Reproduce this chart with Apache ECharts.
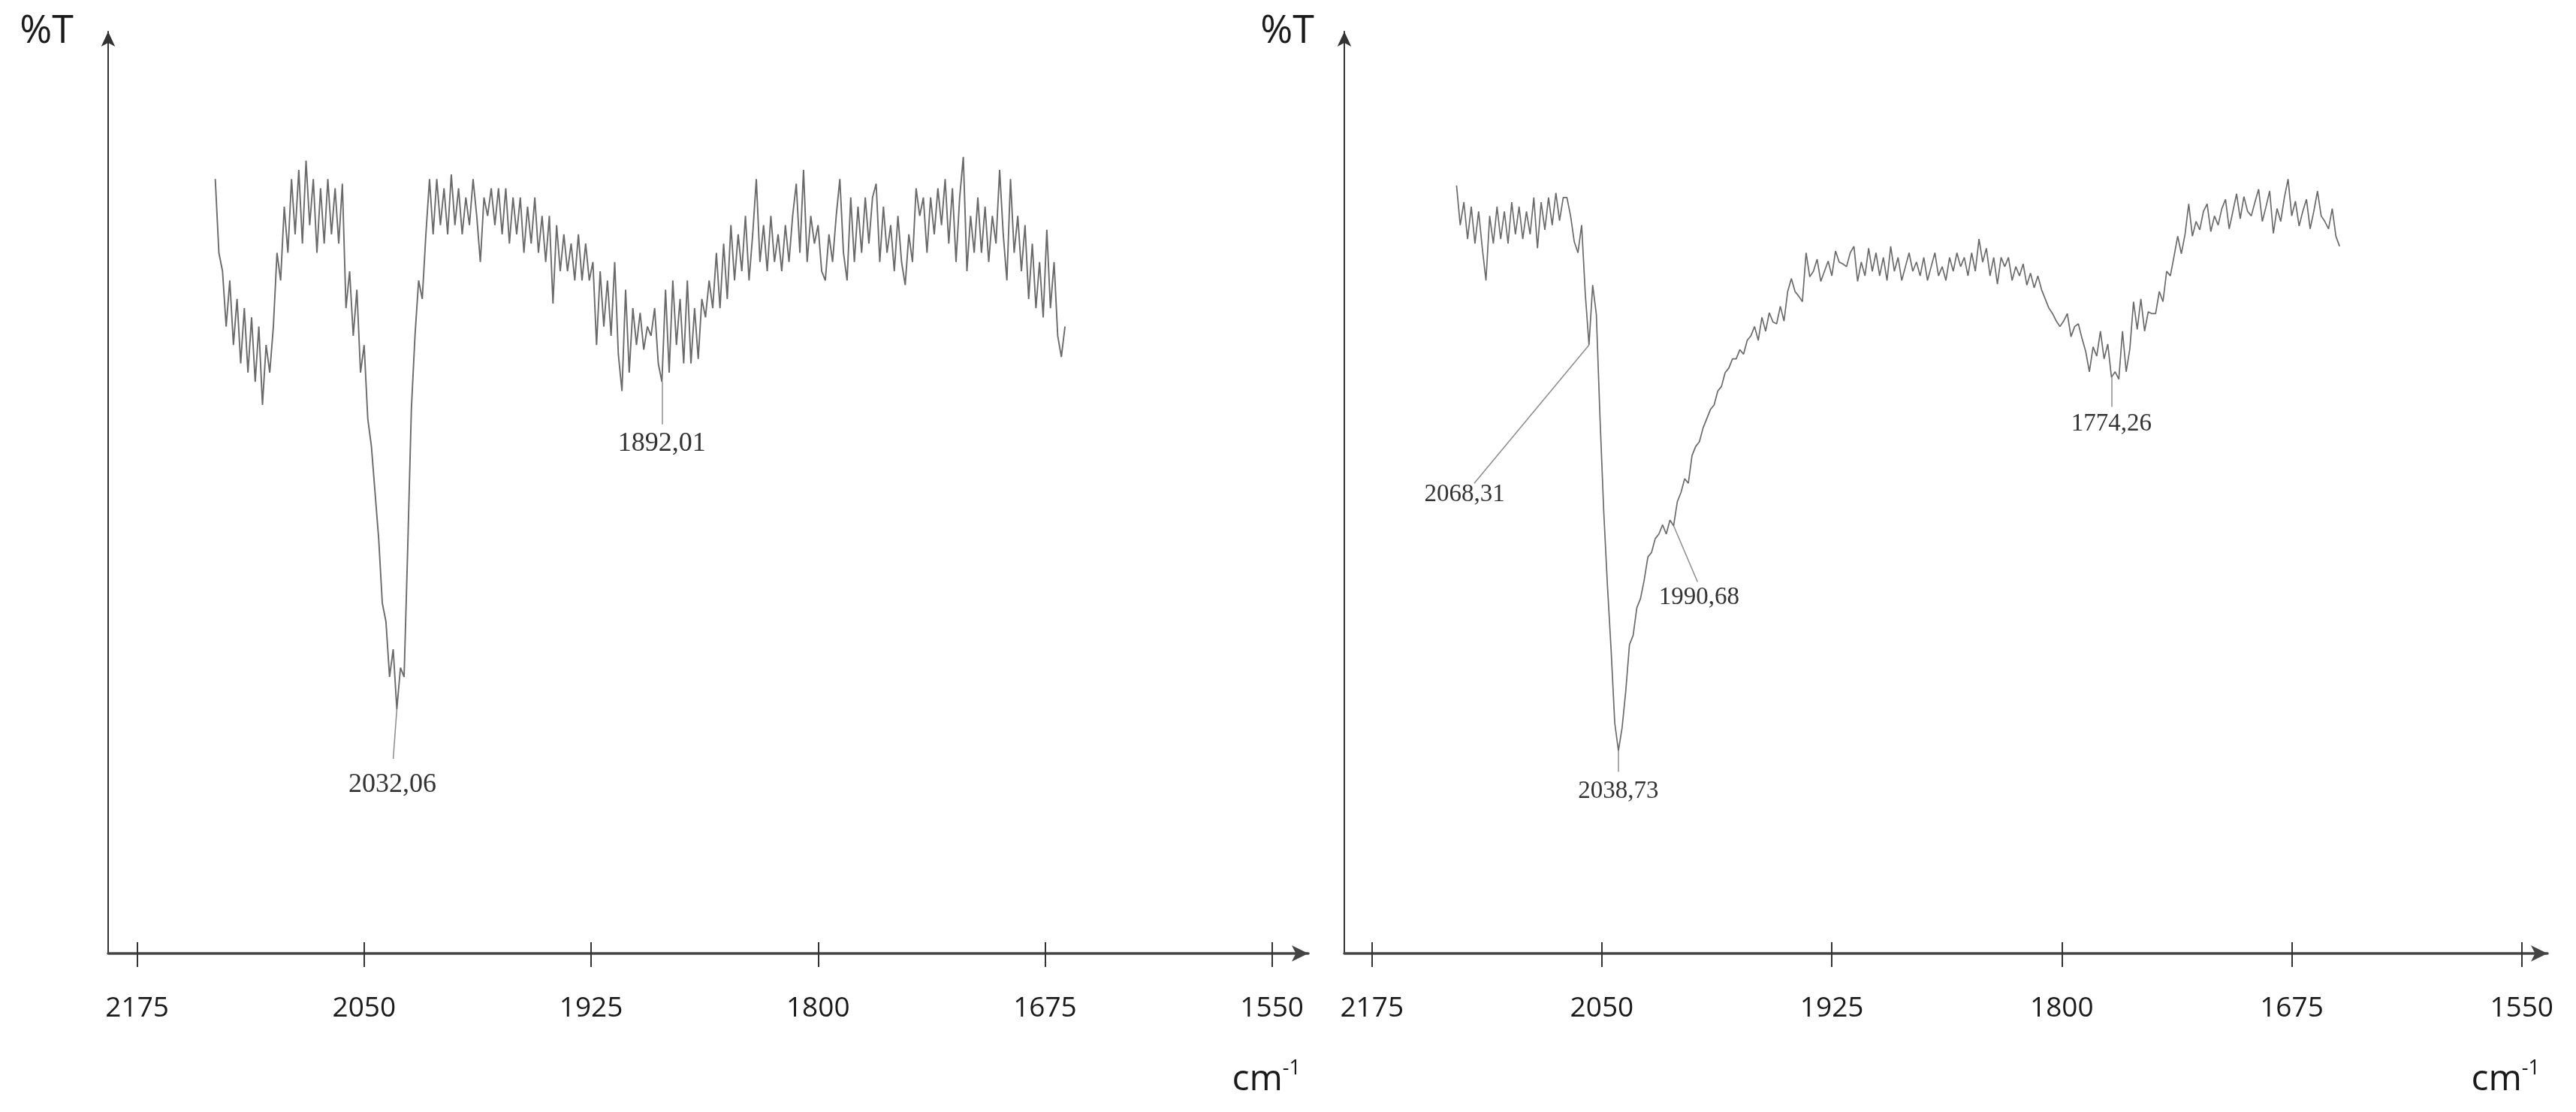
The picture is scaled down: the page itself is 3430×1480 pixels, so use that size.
<!DOCTYPE html>
<html>
<head>
<meta charset="utf-8">
<title>IR spectra</title>
<script src="https://cdn.jsdelivr.net/npm/echarts@6.0.0/dist/echarts.min.js"></script>
<style>
  html, body { margin: 0; padding: 0; background: #fff; }
  #chart { width: 3430px; height: 1480px; }
</style>
</head>
<body>
<div id="chart"></div>
<script>
// wavenumber ticks (cm-1), same on both panels
const tickValues = [2175, 2050, 1925, 1800, 1675, 1550]

// left spectrum, %T read every 2 cm-1 from 2132 down
const leftStart = 2132
const leftStep = 2
const leftT = [
  84, 76, 74, 68, 73, 66, 71, 64, 70, 63,
  69, 62, 68, 59.5, 66, 63, 68, 76, 73, 81,
  76, 84, 78, 85, 77, 86, 79, 84, 76, 83,
  77, 84, 78, 83, 77, 83.5, 70, 74, 67, 72,
  63, 66, 58, 55, 50, 45, 38, 36, 30, 33,
  26.5, 31, 30, 44, 59, 67, 73, 71, 78, 84,
  78, 84, 79, 83, 78, 84.5, 79, 83, 78, 82,
  79, 84, 80, 75, 82, 80, 83, 79, 83, 78,
  83, 77, 82, 78, 82, 76, 81, 77, 82, 76,
  80, 75, 80, 70.5, 79, 74, 78, 74, 77, 73,
  78, 73, 77, 73, 75, 66, 74, 68, 73, 67,
  75, 65, 61, 72, 63, 70, 66, 69.5, 65.5, 68,
  67, 70, 64, 62, 72, 63, 73, 66, 71, 64,
  73, 64, 70, 64.5, 71, 69, 73, 70, 76, 70,
  77, 71, 79, 73, 78, 74, 80, 73, 78, 84,
  75, 79, 74, 80, 75, 78, 74, 79, 75, 80,
  83.5, 76, 85, 75, 80, 77, 79, 74, 73, 78,
  75, 80, 84, 76, 73, 82, 75, 81, 76, 82,
  77, 82, 83.5, 75, 81, 76, 79, 74, 80, 75,
  72.5, 78, 75, 83, 80, 82, 76, 82, 78, 83,
  79, 84, 77, 83, 75, 82, 86.4, 74, 80, 76,
  82, 76, 81, 75, 80, 77, 85, 78, 73, 84,
  76, 80, 74, 79, 71, 77, 70, 75, 69, 78.5,
  70, 75, 67, 64.7, 68
]

// right spectrum, %T read every 2 cm-1 from 2129 down
const rightStart = 2129
const rightStep = 2
const rightT = [
  83.3, 79, 81.5, 77.5, 81, 77, 80.5, 76.5, 73, 80,
  77, 81, 77.5, 80.5, 77, 81.5, 78, 81, 77.5, 80.5,
  78, 82, 76.5, 81.5, 78.5, 82, 79, 82.5, 79.5, 82,
  82, 80, 77.2, 76, 79, 71.5, 66, 72.5, 69.3, 58,
  48, 40, 33, 25, 22, 24.5, 28.5, 33.5, 34.5, 37.5,
  38.5, 40.5, 43, 43.5, 45, 45.5, 46.5, 45.5, 47, 46.4,
  49, 50, 51.5, 51, 54, 55, 55.5, 57, 58, 59,
  59.5, 61, 61.5, 63, 63.5, 64.5, 64.5, 65.5, 65, 66.5,
  67, 68, 66.5, 69, 67.5, 69.5, 68.5, 68.3, 70.2, 68.6,
  71.8, 73.2, 71.8, 71.3, 70.7, 76, 73.4, 74, 75.3, 72.9,
  74, 75.1, 73.5, 76.2, 75, 74.8, 74.5, 76, 76.7, 72.9,
  75, 73.5, 76.5, 74, 76, 73.5, 75.5, 73, 76.7, 74,
  75.5, 73, 74.5, 76, 74, 75, 73.5, 75.5, 73, 74.5,
  76, 73.5, 74.5, 73, 75.5, 74, 76, 74.5, 75.5, 73.5,
  76, 74, 77.5, 75, 76.5, 73.5, 75.5, 72.6, 75.5, 74.5,
  75.5, 73, 74.5, 73.5, 74.8, 72.5, 73.8, 72.2, 73.5, 72,
  71, 70, 69.4, 68.6, 68, 68.6, 69.4, 66.9, 68, 68.3,
  66.7, 65.3, 63.1, 65.8, 64.8, 67.5, 64.5, 66.1, 62.5, 63.1,
  62.3, 67.5, 63.1, 65.6, 70.7, 67.7, 71, 67.5, 69.6, 69.4,
  69.4, 71.8, 70.7, 74, 73.5, 75.6, 77.8, 75.9, 78, 81.3,
  77.8, 79.4, 78.5, 80.5, 81.3, 78.3, 80, 79, 80.8, 81.8,
  78.6, 80.5, 82.4, 79.7, 82.1, 80.5, 80, 81.5, 82.9, 79.4,
  81, 82.7, 78.1, 80.8, 79.4, 82, 84, 80, 81.6, 78.9,
  80.5, 81.8, 78.6, 80.5, 82.7, 80, 79.4, 78.6, 80.8, 77.8,
  76.7
]

// peak labels: text, point on the curve, end of the leader line
const leftPeakNames = ['2032,06', '1892,01']
const leftPeakFrom = [[2032, 26.5], [1886, 62]]
const leftPeakTo = [[2034, 21.1], [1886, 57.4]]
const leftPeakGap = [16, 8]

const rightPeakNames = ['2068,31', '2038,73', '1990,68', '1774,26']
const rightPeakFrom = [[2057, 66], [2041, 22], [2011, 46.4], [1773, 62.5]]
const rightPeakTo = [[2119.4, 51], [2041, 19.7], [1998, 40.3], [1773, 59.3]]
const rightPeakGap = [20, 10, 5, 6]

/**
 * 起点 + 步长 -> [波数, %T]
 */
function toPoints(start, step, values) {
  return values.map((t, i) => [start - i * step, t])
}

/**
 * 峰标注引线
 */
function peakLines(names, from, to, gaps) {
  return names.map((name, i) => [
    { coord: from[i], name: name, label: { distance: gaps[i] } },
    { coord: to[i] }
  ])
}

/* 主 x 轴：刻度朝下、标签、cm-1 */
function mainXAxis(gridIndex, min, max) {
  return {
    type: 'value',
    gridIndex: gridIndex,
    min: min,
    max: max,
    inverse: true,
    name: 'cm{sup|-1}',
    nameLocation: 'start',
    nameGap: -10,
    nameMoveOverlap: false,
    nameTextStyle: {
      fontFamily: 'Open Sans',
      fontSize: 48,
      lineHeight: 56,
      color: '#1a1a1a',
      align: 'right',
      verticalAlign: 'top',
      padding: [140, 0, 0, 0],
      rich: {
        sup: { fontFamily: 'Open Sans', fontSize: 27, lineHeight: 27, verticalAlign: 'top', color: '#1a1a1a' }
      }
    },
    axisLine: {
      show: true,
      onZero: false,
      symbol: ['none', 'arrow'],
      symbolSize: [16, 22],
      lineStyle: { color: '#444', width: 3.5 }
    },
    axisTick: {
      show: true,
      length: 18,
      customValues: tickValues,
      lineStyle: { color: '#333', width: 2 }
    },
    axisLabel: {
      show: true,
      customValues: tickValues,
      formatter: value => String(value),
      margin: 55,
      fontFamily: 'Open Sans',
      fontSize: 37,
      color: '#1a1a1a'
    },
    splitLine: { show: false }
  }
}

/* 辅助 x 轴：只画朝上的半截刻度 */
function innerTickAxis(gridIndex, min, max) {
  return {
    type: 'value',
    gridIndex: gridIndex,
    min: min,
    max: max,
    inverse: true,
    position: 'bottom',
    axisLine: { show: false, onZero: false },
    axisTick: {
      show: true,
      inside: true,
      length: 15,
      customValues: tickValues,
      lineStyle: { color: '#333', width: 2 }
    },
    axisLabel: { show: false },
    splitLine: { show: false }
  }
}

/* y 轴：只有带箭头的轴线和 %T */
function yAxisFor(gridIndex, pad) {
  return {
    type: 'value',
    gridIndex: gridIndex,
    min: 0,
    max: 100,
    name: '%T',
    nameLocation: 'end',
    nameGap: 0,
    nameTextStyle: {
      fontFamily: 'Open Sans',
      fontSize: 52,
      color: '#1a1a1a',
      align: 'right',
      verticalAlign: 'middle',
      padding: [0, pad, 0, 0]
    },
    axisLine: {
      show: true,
      onZero: false,
      symbol: ['none', 'arrow'],
      symbolSize: [14, 20],
      lineStyle: { color: '#333', width: 2 }
    },
    axisTick: { show: false },
    axisLabel: { show: false },
    splitLine: { show: false }
  }
}

/* 峰标注的 markLine 配置 */
function peakMarks(names, from, to, gaps, fontSize) {
  return {
    silent: true,
    symbol: 'none',
    animation: false,
    lineStyle: { color: '#8c8c8c', width: 1.5, type: 'solid' },
    label: {
      show: true,
      position: 'end',
      formatter: '{b}',
      fontFamily: 'Liberation Serif',
      fontSize: fontSize,
      color: '#333'
    },
    emphasis: { disabled: true },
    data: peakLines(names, from, to, gaps)
  }
}

const chart = echarts.init(document.getElementById('chart'))

chart.setOption({
  animation: false,
  backgroundColor: '#fff',
  grid: [
    { left: 144, right: 1688, top: 42, bottom: 211, outerBoundsMode: 'none' },
    { left: 1790, right: 38, top: 42, bottom: 211, outerBoundsMode: 'none' }
  ],
  xAxis: [
    mainXAxis(0, 1530, 2191),
    innerTickAxis(0, 1530, 2191),
    mainXAxis(1, 1536, 2190),
    innerTickAxis(1, 1536, 2190)
  ],
  yAxis: [yAxisFor(0, 46), yAxisFor(1, 40)],
  series: [
    {
      name: 'left',
      type: 'line',
      xAxisIndex: 0,
      yAxisIndex: 0,
      data: toPoints(leftStart, leftStep, leftT),
      showSymbol: false,
      lineStyle: { color: '#6a6a6a', width: 1.9 },
      markLine: peakMarks(leftPeakNames, leftPeakFrom, leftPeakTo, leftPeakGap, 36)
    },
    {
      name: 'right',
      type: 'line',
      xAxisIndex: 2,
      yAxisIndex: 1,
      data: toPoints(rightStart, rightStep, rightT),
      showSymbol: false,
      lineStyle: { color: '#6a6a6a', width: 1.7 },
      markLine: peakMarks(rightPeakNames, rightPeakFrom, rightPeakTo, rightPeakGap, 33)
    }
  ]
})
</script>
</body>
</html>
